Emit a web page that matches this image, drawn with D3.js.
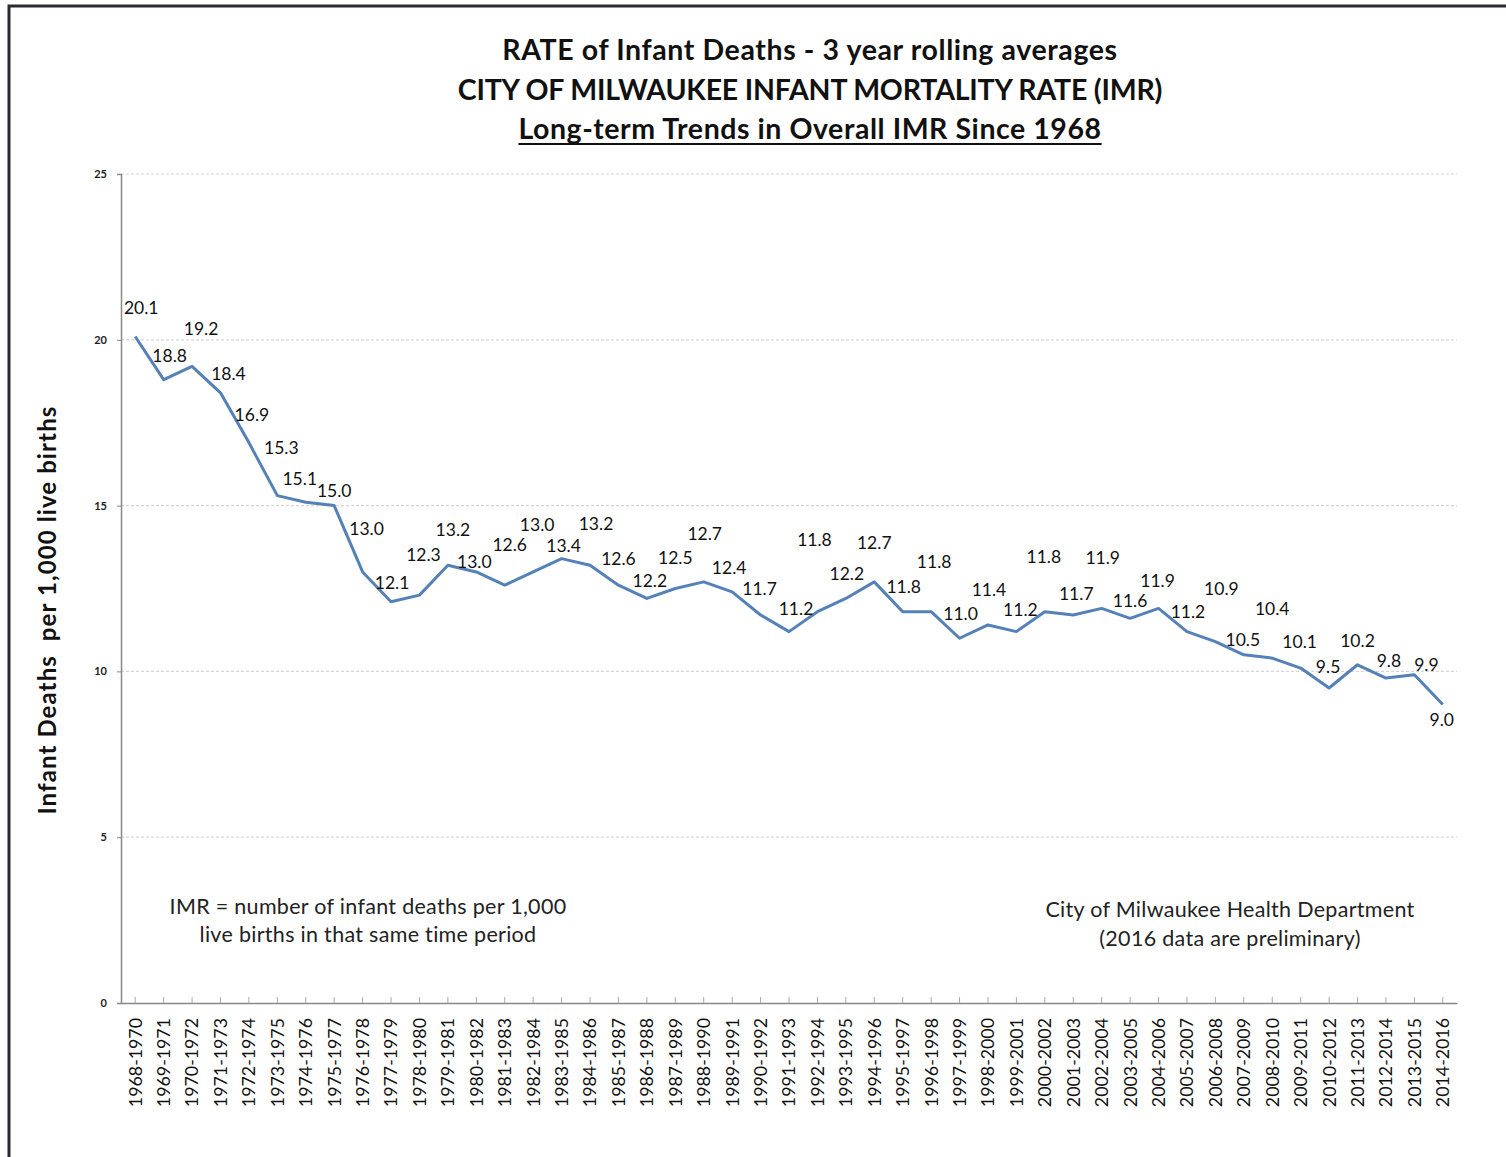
<!DOCTYPE html>
<html>
<head>
<meta charset="utf-8">
<script src="https://cdn.jsdelivr.net/npm/d3@7"></script>
<style>
	body { margin: 0; background: #fff; }
	text { font-family: Lato, "Noto Sans", sans-serif; fill: #111; }
</style>
</head>
<body>
<svg></svg>
<script>
var periods = ['1968-1970', '1969-1971', '1970-1972', '1971-1973', '1972-1974', '1973-1975', '1974-1976',
	'1975-1977', '1976-1978', '1977-1979', '1978-1980', '1979-1981', '1980-1982', '1981-1983', '1982-1984',
	'1983-1985', '1984-1986', '1985-1987', '1986-1988', '1987-1989', '1988-1990', '1989-1991', '1990-1992',
	'1991-1993', '1992-1994', '1993-1995', '1994-1996', '1995-1997', '1996-1998', '1997-1999', '1998-2000',
	'1999-2001', '2000-2002', '2001-2003', '2002-2004', '2003-2005', '2004-2006', '2005-2007', '2006-2008',
	'2007-2009', '2008-2010', '2009-2011', '2010-2012', '2011-2013', '2012-2014', '2013-2015', '2014-2016'];

var imr = [20.1, 18.8, 19.2, 18.4, 16.9, 15.3, 15.1, 15.0, 13.0, 12.1, 12.3, 13.2, 13.0, 12.6, 13.0,
	13.4, 13.2, 12.6, 12.2, 12.5, 12.7, 12.4, 11.7, 11.2, 11.8, 12.2, 12.7, 11.8, 11.8, 11.0, 11.4,
	11.2, 11.8, 11.7, 11.9, 11.6, 11.9, 11.2, 10.9, 10.5, 10.4, 10.1, 9.5, 10.2, 9.8, 9.9, 9.0];

var yTicks = [0, 5, 10, 15, 20, 25];

var titleLines = ['RATE of Infant Deaths - 3 year rolling averages',
	'CITY OF MILWAUKEE INFANT MORTALITY RATE (IMR)',
	'Long-term Trends in Overall IMR Since 1968'];
var titleSpacing = ['0.6px', '-0.2px', '0.55px'];

var noteLeft = ['IMR = number of infant deaths per 1,000', 'live births in that same time period'];
var noteRight = ['City of Milwaukee Health Department', '(2016 data are preliminary)'];

// where each data label sits relative to its point (label centre, px)
var labelOffsets = [[6, -29], [6, -24], [9, -38], [8, -19], [3, -28], [4, -48], [-6, -24], [0, -15],
	[4, -43], [1, -19], [4, -40], [5, -36], [-2, -10], [5, -40], [4, -47], [2, -13], [6, -42], [0, -26],
	[3, -18], [0, -31], [1, -48], [-3, -24], [-1, -26], [7, -23], [-3, -72], [1, -25], [0, -39], [1, -25],
	[3, -50], [1, -25], [1, -35], [4, -22], [-1, -55], [3, -21], [1, -51], [0, -18], [-1, -28], [1, -20],
	[6, -53], [-1, -15], [0, -49], [-1, -26], [-1, -21], [0, -24], [3, -17], [12, -10], [-1, 15]];

function main() {
	var W = 1506, H = 1157;
	var margin = { top: 174, left: 121, right: 49, bottom: 154 };
	var width = W - margin.left - margin.right,
		height = H - margin.top - margin.bottom;

	var data = periods.map(function (p, i) {
		return { period: p, value: imr[i], off: labelOffsets[i] };
	});

	var svg = d3.select("svg")
		.attr("width", W)
		.attr("height", H);

	// frame
	svg.append("rect")
		.attr("x", 9)
		.attr("y", 6)
		.attr("width", W + 20)
		.attr("height", H + 20)
		.attr("fill", "none")
		.attr("stroke", "#2a2a33")
		.attr("stroke-width", 3);

	// titles
	var title = svg.append("g");
	titleLines.forEach(function (t, i) {
		title.append("text")
			.attr("x", 810)
			.attr("y", 60 + i * 39.5)
			.attr("text-anchor", "middle")
			.style("font-size", "28.5px")
			.style("font-weight", "bold")
			.style("letter-spacing", titleSpacing[i])
			.text(t);
	});
	var sub = title.select("text:last-child").node().getBBox();
	title.append("line")
		.attr("x1", sub.x)
		.attr("x2", sub.x + sub.width)
		.attr("y1", 144)
		.attr("y2", 144)
		.attr("stroke", "#111")
		.attr("stroke-width", 2);

	var xScale = d3.scaleBand()
		.range([0, width])
		.domain(periods);

	var yScale = d3.scaleLinear()
		.range([height, 0])
		.domain([0, 25]);

	function xc(p) {
		return xScale(p) + xScale.bandwidth() / 2;
	}

	var g = svg.append("g")
		.attr("transform", "translate(" + margin.left + "," + margin.top + ")");

	// grid
	g.append("g")
		.selectAll("line")
		.data(yTicks.filter(function (d) { return d > 0; }))
		.enter().append("line")
		.attr("x1", 0)
		.attr("x2", width)
		.attr("y1", function (d) { return yScale(d); })
		.attr("y2", function (d) { return yScale(d); })
		.attr("stroke", "#d6d6d6")
		.attr("stroke-width", 1.2)
		.attr("stroke-dasharray", "3,2");

	// axis-y
	var yAxis = g.append("g")
		.call(d3.axisLeft(yScale).tickValues(yTicks).tickSize(4).tickPadding(10));
	yAxis.select(".domain").attr("stroke", "#888").attr("stroke-width", 1.5);
	yAxis.selectAll(".tick line").attr("stroke", "#888");
	yAxis.selectAll("text")
		.style("font-size", "11px")
		.style("font-weight", "bold")
		.style("fill", "#222");

	// axis-x
	var xAxis = g.append("g")
		.attr("transform", "translate(0," + height + ")")
		.call(d3.axisBottom(xScale).tickSize(0).tickSizeOuter(0));
	xAxis.select(".domain").attr("stroke", "#888").attr("stroke-width", 1.5);
	xAxis.selectAll(".tick line").remove();
	xAxis.selectAll(".tick").append("line")
		.attr("y1", 0)
		.attr("y2", -6)
		.attr("stroke", "#aaa");
	xAxis.selectAll("text")
		.attr("transform", "rotate(-90)")
		.attr("x", -15)
		.attr("y", 0)
		.attr("dy", "0.36em")
		.attr("text-anchor", "end")
		.style("font-size", "17.8px")
		.style("fill", "#111");

	// y label
	svg.append("text")
		.attr("transform", "translate(56,610) rotate(-90)")
		.attr("text-anchor", "middle")
		.style("font-size", "24px")
		.style("font-weight", "bold")
		.style("letter-spacing", "1.1px")
		.style("white-space", "pre")
		.text("Infant Deaths  per 1,000 live births");

	// line
	var valueline = d3.line()
		.x(function (d) { return xc(d.period); })
		.y(function (d) { return yScale(d.value); });

	g.append("path")
		.data([data])
		.attr("d", valueline)
		.attr("fill", "none")
		.attr("stroke", "#5481b8")
		.attr("stroke-width", 3)
		.attr("stroke-linejoin", "round");

	// data labels
	g.selectAll(".lbl")
		.data(data)
		.enter().append("text")
		.attr("class", "lbl")
		.attr("x", function (d) { return xc(d.period) + d.off[0]; })
		.attr("y", function (d) { return yScale(d.value) + d.off[1]; })
		.attr("dy", "0.36em")
		.attr("text-anchor", "middle")
		.style("font-size", "17.5px")
		.text(function (d) { return d.value.toFixed(1); });

	// notes
	noteLeft.forEach(function (t, i) {
		svg.append("text")
			.attr("x", 368)
			.attr("y", 914 + i * 28)
			.attr("text-anchor", "middle")
			.style("font-size", "21.5px")
			.style("letter-spacing", "0.3px")
			.style("fill", "#222")
			.text(t);
	});
	noteRight.forEach(function (t, i) {
		svg.append("text")
			.attr("x", 1230)
			.attr("y", 917 + i * 29)
			.attr("text-anchor", "middle")
			.style("font-size", "21.5px")
			.style("letter-spacing", "0.3px")
			.style("fill", "#222")
			.text(t);
	});
}
main();
</script>
</body>
</html>
